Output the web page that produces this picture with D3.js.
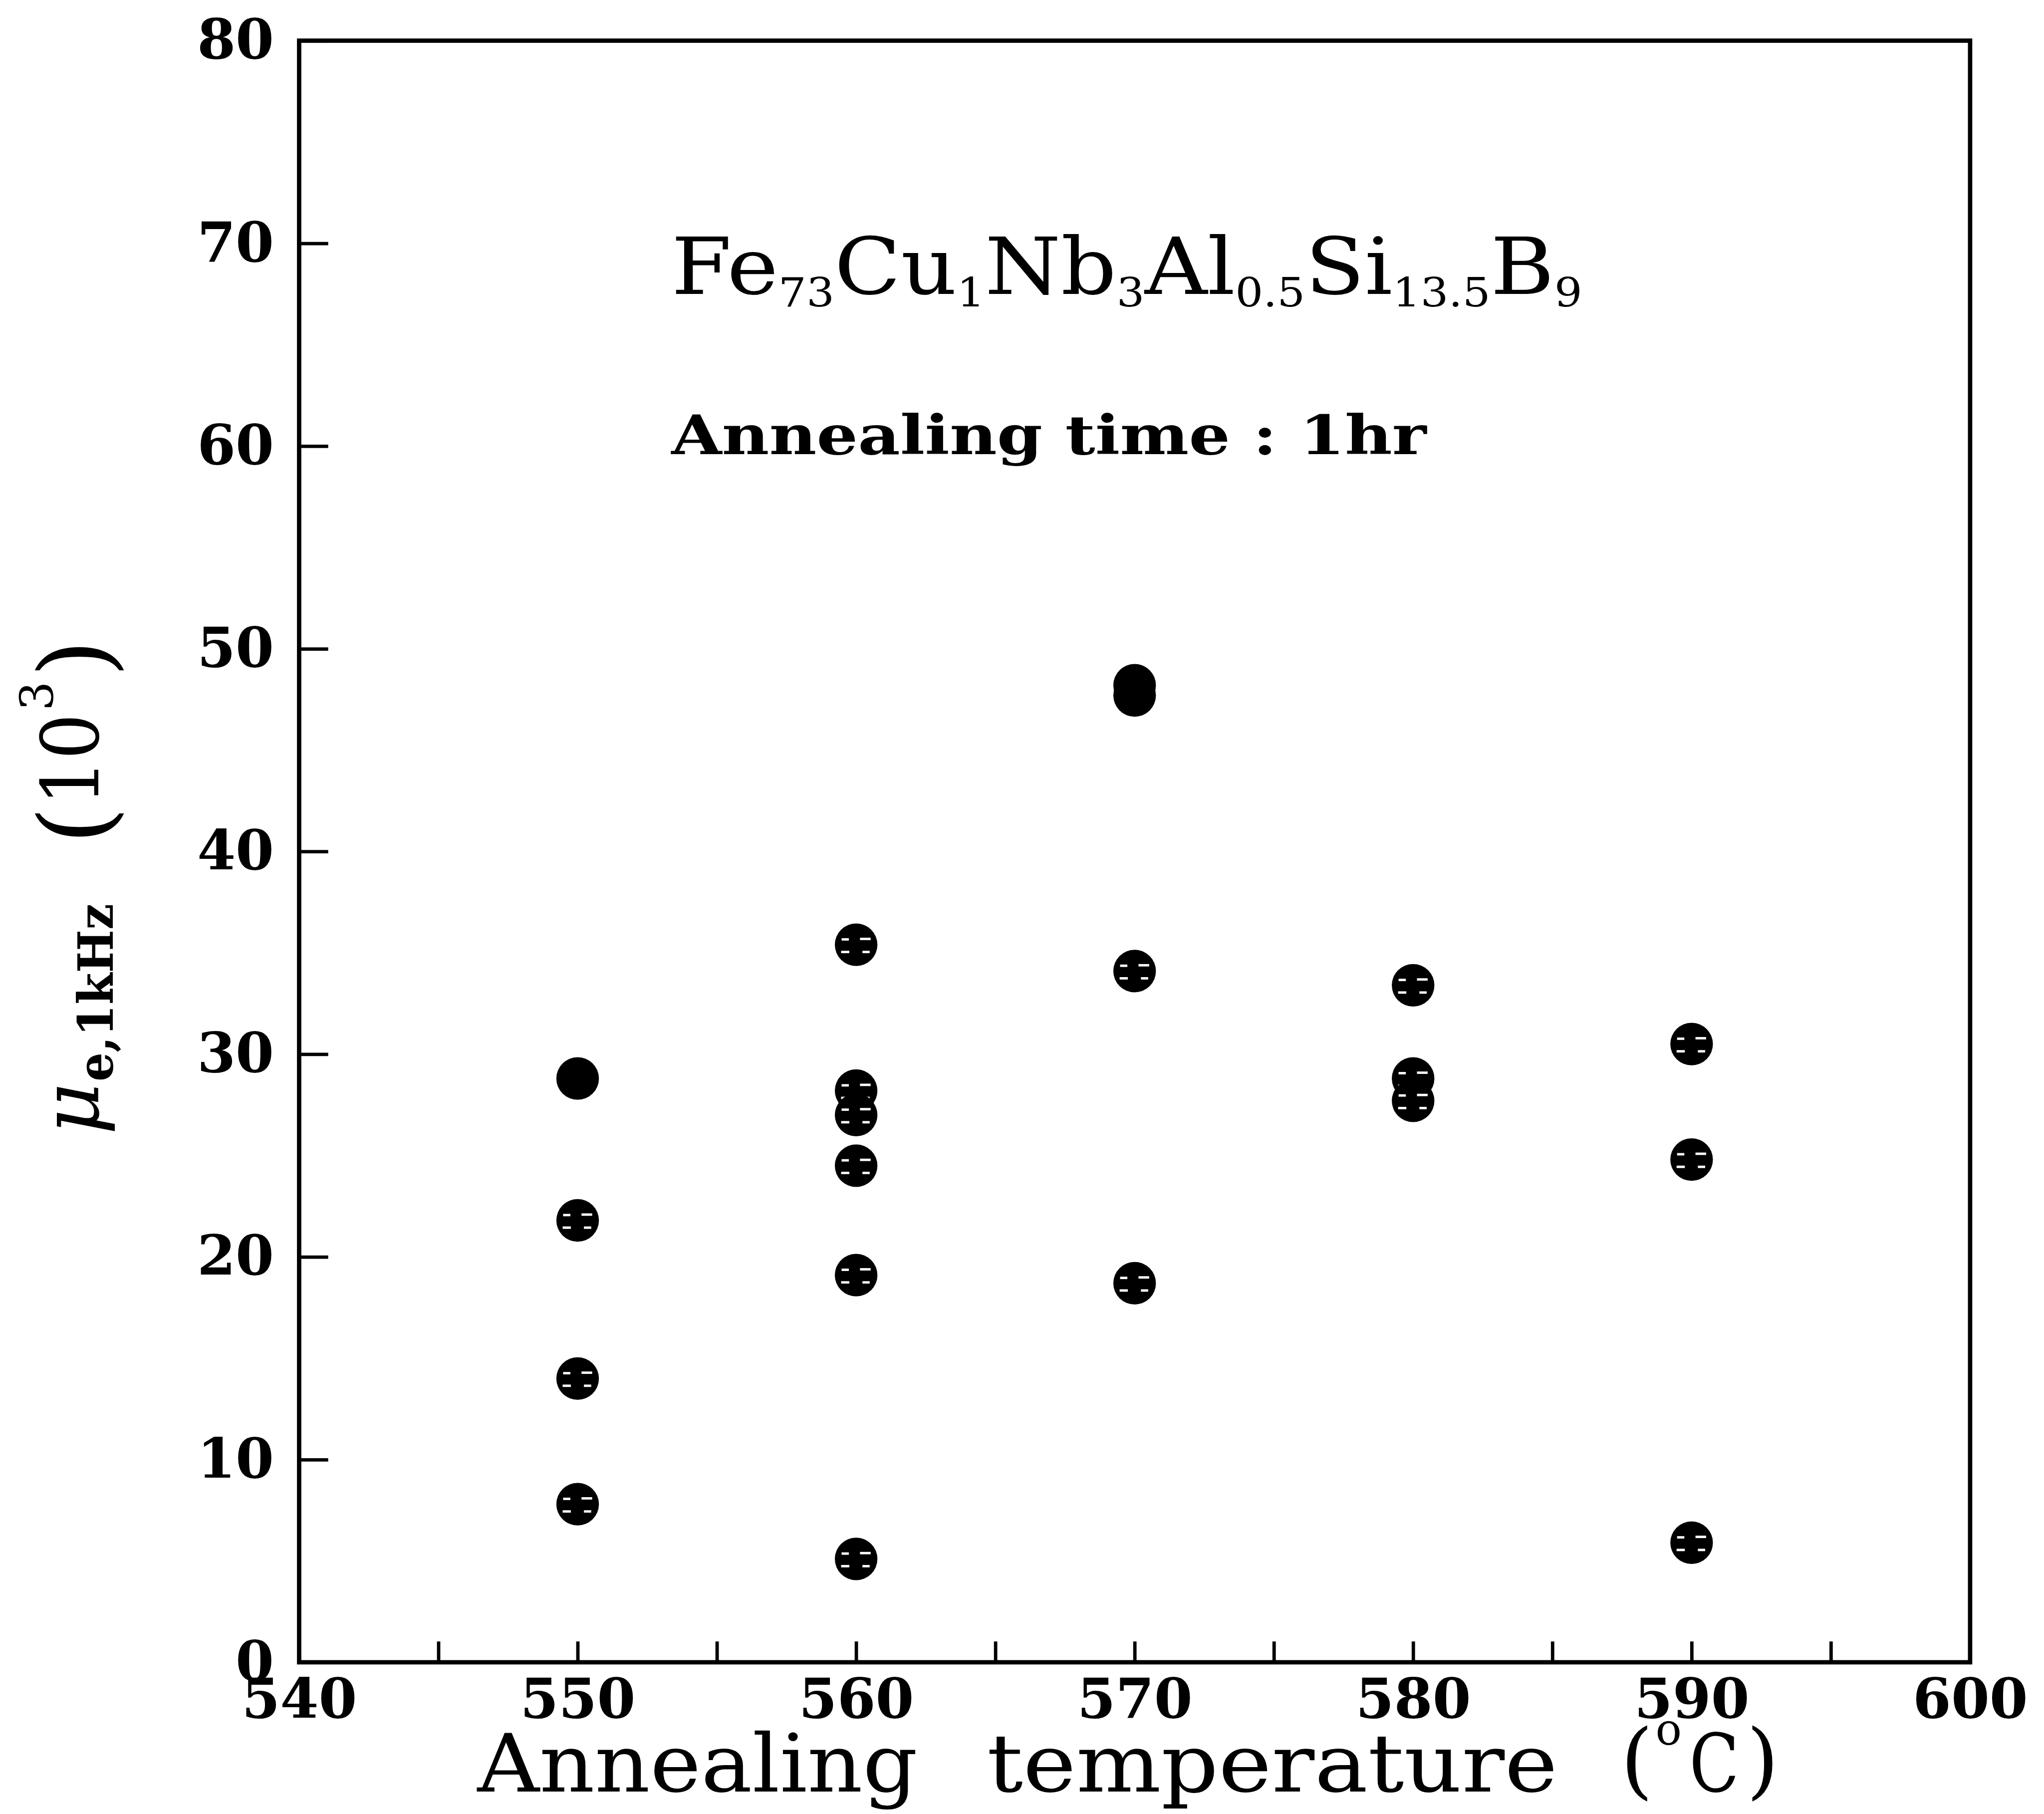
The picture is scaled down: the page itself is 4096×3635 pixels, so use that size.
<!DOCTYPE html>
<html>
<head>
<meta charset="utf-8">
<script src="https://d3js.org/d3.v7.min.js"></script>
<style>
  html, body { margin: 0; padding: 0; background: #fff; }
  svg { display: block; }
  text { font-family: "DejaVu Serif", "Liberation Serif", serif; fill: #000; }
</style>
</head>
<body>
<div id="chart"></div>
<script>

// Data: initial permeability at 1 kHz (x 10^3) vs annealing temperature
var solidTemps   = [550, 570, 570];
var solidValues  = [28.8, 48.2, 47.7];

var hatchTemps   = [550, 550, 550,
                    560, 560, 560, 560, 560, 560,
                    570, 570,
                    580, 580, 580,
                    590, 590, 590];
var hatchValues  = [21.8, 14.0, 7.8,
                    35.4, 28.2, 27.0, 24.5, 19.1, 5.1,
                    34.1, 18.7,
                    33.4, 28.8, 27.7,
                    30.5, 24.8, 5.9];

var xMinorTicks = [545, 550, 555, 560, 565, 570, 575, 580, 585, 590, 595];
var xLabelTicks = [540, 550, 560, 570, 580, 590, 600];
var yTicks      = [0, 10, 20, 30, 40, 50, 60, 70, 80];

var k = 0.97;  // reference -> window scale

var svg = d3.select("#chart").append("svg")
    .attr("width", 4096)
    .attr("height", 3635);

// work in reference pixel units, shrink at the end
var g = svg.append("g").attr("transform", "scale(" + k + ")");

var margin = { left: 618, top: 84, right: 4070, bottom: 3434 };

var x = d3.scaleLinear().domain([540, 600]).range([margin.left, margin.right]);
var y = d3.scaleLinear().domain([0, 80]).range([margin.bottom, margin.top]);

// minor/major x ticks (inside, no labels)
var xTickAxis = d3.axisBottom(x)
    .tickValues(xMinorTicks)
    .tickSizeInner(-43)
    .tickSizeOuter(0)
    .tickFormat("");

g.append("g")
    .attr("class", "x-ticks")
    .attr("transform", "translate(0," + margin.bottom + ")")
    .call(xTickAxis);

// x labels
var xLabelAxis = d3.axisBottom(x)
    .tickValues(xLabelTicks)
    .tickSizeInner(0)
    .tickSizeOuter(0)
    .tickPadding(34)
    .tickFormat(d3.format("d"));

g.append("g")
    .attr("class", "x-labels")
    .attr("transform", "translate(0," + margin.bottom + ")")
    .call(xLabelAxis);

// y axis
var yAxis = d3.axisLeft(y)
    .tickValues(yTicks)
    .tickSizeInner(-60)
    .tickSizeOuter(0)
    .tickPadding(52)
    .tickFormat(d3.format("d"));

g.append("g")
    .attr("class", "y-axis")
    .attr("transform", "translate(" + margin.left + ",0)")
    .call(yAxis);

g.selectAll(".domain").remove();
g.selectAll(".tick line").attr("stroke", "#000").attr("stroke-width", 7);
g.selectAll(".x-labels .tick text, .y-axis .tick text")
    .attr("font-family", "DejaVu Serif")
    .attr("font-weight", "bold")
    .attr("font-size", 114)
    .attr("fill", "#000");

// frame
g.append("rect")
    .attr("x", margin.left)
    .attr("y", margin.top)
    .attr("width", margin.right - margin.left)
    .attr("height", margin.bottom - margin.top)
    .attr("fill", "none")
    .attr("stroke", "#000")
    .attr("stroke-width", 9);

// markers
var r = 44;

var solidData = solidTemps.map(function (t, i) { return { t: t, v: solidValues[i] }; });
var hatchData = hatchTemps.map(function (t, i) { return { t: t, v: hatchValues[i] }; });

g.selectAll(".solid")
    .data(solidData)
    .enter().append("circle")
    .attr("class", "solid")
    .attr("cx", function (d) { return x(d.t); })
    .attr("cy", function (d) { return y(d.v); })
    .attr("r", r)
    .attr("fill", "#000");

var hatched = g.selectAll(".hatched")
    .data(hatchData)
    .enter().append("g")
    .attr("class", "hatched")
    .attr("transform", function (d) { return "translate(" + x(d.t) + "," + y(d.v) + ")"; });

hatched.append("circle")
    .attr("r", r)
    .attr("fill", "#000");

// the white strokes inside each symbol
var dashes = [[-30, -11, -15, -11], [8, -12, 30, -12], [-31, 15, -14, 15], [13, 15, 28, 15]];
dashes.forEach(function (s) {
    hatched.append("line")
        .attr("x1", s[0]).attr("y1", s[1])
        .attr("x2", s[2]).attr("y2", s[3])
        .attr("stroke", "#fff")
        .attr("stroke-width", 5);
});

// formula
var formula = g.append("text")
    .attr("x", 1387)
    .attr("y", 607)
    .attr("font-size", 162)
    .attr("textLength", 1882)
    .attr("lengthAdjust", "spacingAndGlyphs");

var parts = [["Fe", "73"], ["Cu", "1"], ["Nb", "3"], ["Al", "0.5"], ["Si", "13.5"], ["B", "9"]];
parts.forEach(function (p, i) {
    formula.append("tspan").attr("dy", i === 0 ? 0 : -26).text(p[0]);
    formula.append("tspan").attr("font-size", 82).attr("dy", 26).text(p[1]);
});

g.append("text")
    .attr("x", 1387)
    .attr("y", 938)
    .attr("font-size", 112)
    .attr("font-weight", "bold")
    .attr("textLength", 1560)
    .attr("lengthAdjust", "spacingAndGlyphs")
    .text("Annealing time : 1hr");

// x axis title
var xt = 3701;
g.append("text").attr("x", 986).attr("y", xt).attr("font-size", 166)
    .attr("textLength", 910).attr("lengthAdjust", "spacingAndGlyphs").text("Annealing");
g.append("text").attr("x", 2039).attr("y", xt).attr("font-size", 166)
    .attr("textLength", 1179).attr("lengthAdjust", "spacingAndGlyphs").text("temperature");
g.append("text").attr("x", 3348).attr("y", xt - 6).attr("font-size", 172).text("(");
g.append("text").attr("x", 3420).attr("y", 3604).attr("font-size", 90).text("o");
g.append("text").attr("x", 3490).attr("y", xt).attr("font-size", 166)
    .attr("textLength", 103).attr("lengthAdjust", "spacingAndGlyphs").text("C");
g.append("text").attr("x", 3608).attr("y", xt - 6).attr("font-size", 172).text(")");

// y axis title (rotated)
var yl = g.append("g").attr("transform", "translate(203,2344) rotate(-90)");
yl.append("text").attr("x", 0).attr("y", 0).attr("font-size", 165)
    .attr("font-style", "italic").attr("textLength", 107).attr("lengthAdjust", "spacingAndGlyphs").text("\u03bc");
yl.append("text").attr("x", 110).attr("y", 30).attr("font-size", 100)
    .attr("font-weight", "bold").attr("textLength", 367).attr("lengthAdjust", "spacingAndGlyphs").text("e,1kHz");
yl.append("text").attr("x", 600).attr("y", 22).attr("font-size", 200).text("(");
yl.append("text").attr("x", 680).attr("y", 0).attr("font-size", 165)
    .attr("textLength", 190).attr("lengthAdjust", "spacingAndGlyphs").text("10");
yl.append("text").attr("x", 876).attr("y", -94).attr("font-size", 95).text("3");
yl.append("text").attr("x", 945).attr("y", 22).attr("font-size", 200).text(")");

</script>
</body>
</html>
